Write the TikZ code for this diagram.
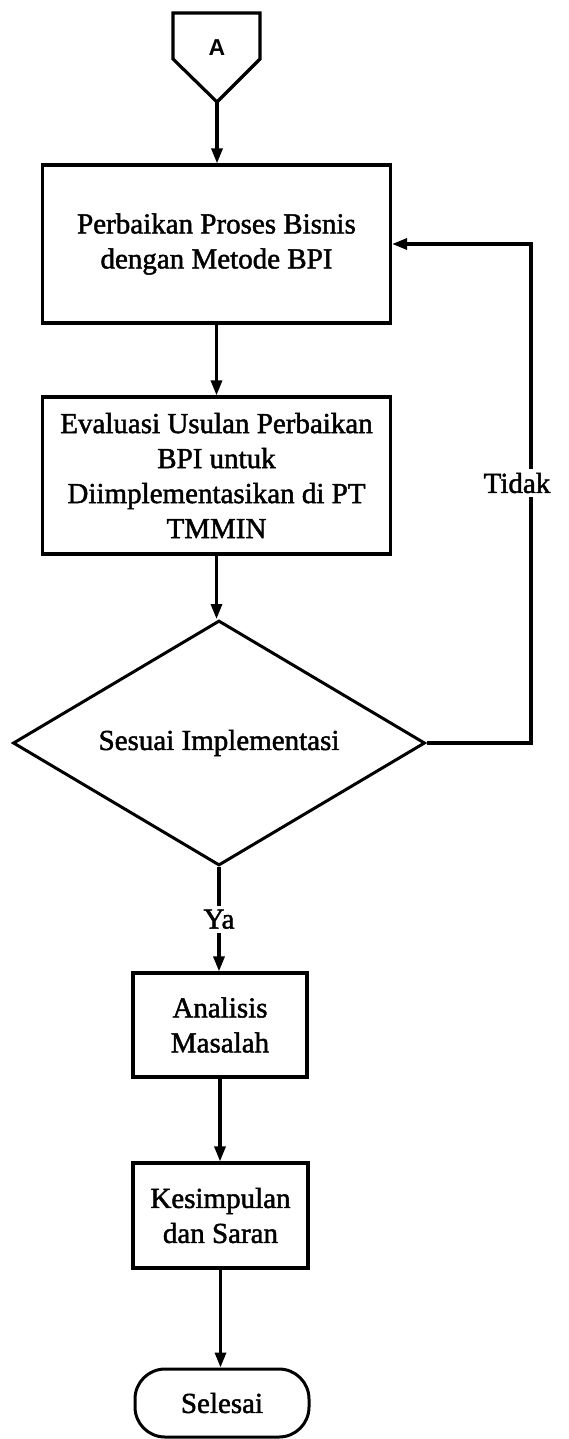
\documentclass[tikz,border=0pt]{standalone}
\usepackage{fontspec}
\setmainfont{Liberation Serif}[BoldFont={Liberation Serif}, BoldFeatures={FakeBold=1.6}]
\newfontfamily\lblsans{Liberation Sans}[BoldFont={Liberation Sans Bold}]
\usetikzlibrary{shapes.geometric,arrows.meta}

\begin{document}
\begin{tikzpicture}[x=1pt,y=-1pt,
  every node/.style={font=\bfseries\fontsize{29}{35}\selectfont, text=black},
  flowline/.style={line width=3.2pt, draw=black, line join=miter},
  arr/.style={flowline, -{Triangle[length=15pt,width=11pt]}},
  procbox/.style={draw=black, line width=3.2pt, rectangle, align=center, inner sep=0pt},
  decision/.style={draw=black, line width=3pt, diamond, aspect=1.68, inner sep=0pt,
    minimum width=412pt, minimum height=245pt},
  terminal/.style={draw=black, line width=3pt, rectangle, rounded corners=30pt,
    inner sep=0pt, minimum width=174pt, minimum height=68pt},
  lbl/.style={fill=white, inner xsep=2pt, inner ysep=4pt}
]
\useasboundingbox (0,0) rectangle (568,1439);

% off-page connector A
\draw[flowline, line join=miter] (173,13) -- (260,13) -- (260,59) -- (217,102)
  -- (173,59) -- cycle;
\coordinate (atip) at (217,102);
\node[font=\lblsans\bfseries\fontsize{23}{26}\selectfont] (aconn) at (217,48) {A};

% process steps
\node[procbox, minimum width=348pt, minimum height=158pt] (b1) at (216.5,244)
  {Perbaikan Proses Bisnis\\dengan Metode BPI};
\node[procbox, minimum width=348pt, minimum height=157pt] (b2) at (216.5,475.5)
  {Evaluasi Usulan Perbaikan\\BPI untuk\\Diimplementasikan di PT\\TMMIN};
\node[decision] (dia) at (219,743) {Sesuai Implementasi};
\node[procbox, minimum width=174pt, minimum height=104pt] (b3) at (220,1025)
  {Analisis\\Masalah};
\node[procbox, minimum width=175pt, minimum height=105pt] (b4) at (220.5,1215.5)
  {Kesimpulan\\dan Saran};
\node[terminal] (term) at (222,1403) {Selesai};

% connectors
\draw[arr] (atip) -- (atip |- b1.north);
\draw[arr] (b1.south) -- (b1.south |- b2.north);
\draw[arr] (b2.south) -- (b2.south |- dia.north);
\draw[arr] (dia.south) -- node[lbl] (ya) {Ya} (dia.south |- b3.north);
\draw[arr] (b3.south) -- (b3.south |- b4.north);
\draw[arr] (b4.south) -- (b4.south |- term.north);

% loop back when the proposal does not fit
\coordinate (loopc) at (531,743);
\draw[arr] (dia.east) -- (loopc) |- (b1.east);
\node[lbl, inner xsep=0pt] (tidak) at (517,483) {Tidak};
\end{tikzpicture}
\end{document}
